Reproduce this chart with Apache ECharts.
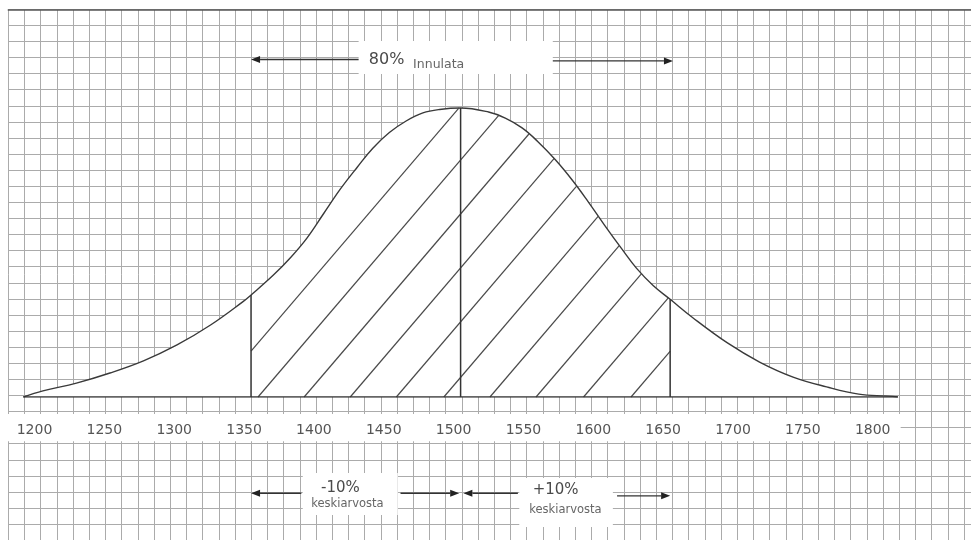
<!DOCTYPE html>
<html>
<head>
<meta charset="utf-8">
<script src="https://cdn.jsdelivr.net/npm/echarts@6/dist/echarts.min.js"></script>
<style>
  html, body { margin: 0; padding: 0; background: #fff; }
  #chart { width: 971px; height: 540px; }
</style>
</head>
<body>
<div id="chart"></div>
<script>
// x axis tick labels
const tickLabels = [1200, 1250, 1300, 1350, 1400, 1450, 1500, 1550, 1600, 1650, 1700, 1750, 1800]

// bell curve: x value, height as % of peak
const curveX = [1187, 1201, 1225, 1249, 1273, 1297, 1321, 1344, 1350, 1366, 1378, 1390, 1402, 1414, 1426, 1437, 1449, 1461, 1473, 1485, 1500,
  1520, 1532, 1544, 1555, 1568, 1580, 1591, 1603, 1615, 1626, 1638, 1650, 1666, 1691, 1714, 1738, 1762, 1785, 1806, 1813]
const curveY = [0, 2.1, 4.8, 8.3, 12.5, 18, 24.9, 32.9, 35.3, 42.2, 48.1, 55, 63.5, 72, 79.5, 86, 91.5, 95.5, 98.3, 99.5, 100,
  98.6, 96.5, 93.1, 88.5, 82, 75, 67.8, 59.5, 51.5, 44.5, 38.5, 33.8, 27.5, 18.7, 12.1, 6.9, 3.5, 1, 0.3, 0]

// -10% / mean / +10% verticals
const dividerX = [1350, 1500, 1650]
const dividerY = [35.3, 100, 33.8]

// baseline crossings of the hatch strokes
const hatchStarts = [1322, 1355, 1388, 1421, 1454, 1488, 1521, 1554, 1588, 1622]
const HATCH_SLOPE = 1.17

// annotation arrows (from -> head)
const arrowFrom = [1427, 1566, 1386, 1457, 1541, 1612]
const arrowTo = [1350, 1652, 1350, 1499, 1502, 1650]
const arrowY = [116.8, 116.3, -33.3, -33.3, -33.3, -34.2]

// annotation texts
const noteText = ['80%', 'Innulata', '-10%', 'keskiarvosta', '+10%', 'keskiarvosta']
const noteX = [1447, 1466, 1414, 1419, 1568, 1575]
const noteY = [116.6, 115, -31.6, -37.1, -32.2, -39.1]
const noteSize = [16, 12.5, 15, 11.5, 15, 11.5]
const noteAlign = ['center', 'left', 'center', 'center', 'center', 'center']

// white patches on the graph paper behind the texts: x1, x2, y1, y2
const blankX1 = [1176, 1427, 1387, 1542]
const blankX2 = [1815, 1566, 1455, 1609]
const blankY1 = [-5.9, 111.8, -26.3, -28]
const blankY2 = [-15.3, 123.2, -40.8, -45]

const FONT = 'DejaVu Sans'
const chart = echarts.init(document.getElementById('chart'))

function renderHatch(params, api) {
  const pts = curveX.map((x, i) => api.coord([x, curveY[i]]))
  const xl = api.coord([dividerX[0], 0])[0]
  const xr = api.coord([dividerX[2], 0])[0]
  const top = px => {
    for (let i = 1; i < pts.length; i++) {
      if (pts[i][0] >= px) {
        const a = pts[i - 1], b = pts[i]
        return a[1] + (px - a[0]) / (b[0] - a[0]) * (b[1] - a[1])
      }
    }
    return pts[pts.length - 1][1]
  }
  const p0 = api.coord([api.value(0), 0])
  let x = p0[0], y = p0[1]
  if (x < xl) { y -= HATCH_SLOPE * (xl - x); x = xl }
  let ex = x, ey = y
  while (ex < xr && ey > top(ex)) { ex += 0.25; ey -= HATCH_SLOPE * 0.25 }
  return {
    type: 'line',
    shape: {x1: x, y1: y, x2: ex, y2: ey},
    style: {stroke: '#4a4a4a', lineWidth: 1.2}
  }
}

function renderDivider(params, api) {
  const a = api.coord([api.value(0), 0])
  const b = api.coord([api.value(0), api.value(1)])
  return {type: 'line', shape: {x1: a[0], y1: a[1], x2: b[0], y2: b[1]}, style: {stroke: '#333', lineWidth: 1.5}}
}

function renderBlank(params, api) {
  const a = api.coord([api.value(0), api.value(2)])
  const b = api.coord([api.value(1), api.value(3)])
  return {
    type: 'rect',
    shape: {x: Math.min(a[0], b[0]), y: Math.min(a[1], b[1]), width: Math.abs(b[0] - a[0]), height: Math.abs(b[1] - a[1])},
    style: {fill: '#fff'}
  }
}

function renderArrow(params, api) {
  const a = api.coord([api.value(0), api.value(2)])
  const b = api.coord([api.value(1), api.value(2)])
  const dir = b[0] > a[0] ? 1 : -1
  const len = 9, half = 3.5
  return {
    type: 'group',
    children: [
      {type: 'line', shape: {x1: a[0], y1: a[1], x2: b[0] - dir * len, y2: b[1]}, style: {stroke: '#333', lineWidth: 1.4}},
      {type: 'polygon', shape: {points: [[b[0], b[1]], [b[0] - dir * len, b[1] - half], [b[0] - dir * len, b[1] + half]]}, style: {fill: '#222'}}
    ]
  }
}

function renderNote(params, api) {
  const i = params.dataIndex
  const p = api.coord([noteX[i], noteY[i]])
  return {
    type: 'text',
    x: p[0], y: p[1],
    style: {
      text: noteText[i], fontSize: noteSize[i], fontFamily: FONT,
      fill: noteSize[i] > 13 ? '#4a4a4a' : '#666', align: noteAlign[i], verticalAlign: 'middle'
    }
  }
}

const option = {
  animation: false,
  backgroundColor: '#fff',
  grid: [
    // plot: baseline at y=397, peak (100) at y=108
    {left: 13.56, width: 894.08, top: 9.3, bottom: 143, outerBoundsMode: 'none', containLabel: false},
    // graph paper
    {left: 8.3, top: 9.3, width: 16.2 * 60, height: 16.09 * 33, outerBoundsMode: 'none', containLabel: false}
  ],
  xAxis: [
    {
      type: 'value', min: 1180, max: 1820, z: 10,
      axisLine: {show: false},
      axisTick: {show: false},
      splitLine: {show: false},
      axisLabel: {
        customValues: tickLabels, margin: 26, padding: [0, 14, 0, 0],
        formatter: v => String(v),
        color: '#555', fontSize: 14, fontFamily: FONT
      }
    },
    {
      gridIndex: 1, type: 'value', min: 0, max: 60, interval: 1, position: 'top',
      axisLine: {show: true, lineStyle: {color: '#555', width: 1.5}},
      axisTick: {show: false}, axisLabel: {show: false},
      splitLine: {show: true, lineStyle: {color: '#ababab', width: 1}}
    }
  ],
  yAxis: [
    {type: 'value', min: 0, max: 134.15, show: false},
    {
      gridIndex: 1, type: 'value', min: 0, max: 33, interval: 1, inverse: true,
      axisLine: {show: false}, axisTick: {show: false}, axisLabel: {show: false},
      splitLine: {show: true, lineStyle: {color: '#ababab', width: 1}}
    }
  ],
  series: [
    {
      type: 'custom', z: 1, renderItem: renderBlank, clip: false,
      encode: {x: [0, 1], y: [2, 3]},
      data: blankX1.map((x, i) => [x, blankX2[i], blankY1[i], blankY2[i]])
    },
    {
      type: 'line', z: 2, smooth: 0.4, symbol: 'none',
      data: curveX.map((x, i) => [x, curveY[i]]),
      lineStyle: {color: '#3a3a3a', width: 1.4},
      areaStyle: {color: '#fff', opacity: 1}
    },
    {
      type: 'line', z: 3, symbol: 'none',
      data: [[curveX[0], 0], [curveX[curveX.length - 1], 0]],
      lineStyle: {color: '#333', width: 1.5}
    },
    {
      type: 'custom', z: 3, renderItem: renderHatch, clip: false,
      data: hatchStarts.map(x => [x, 0])
    },
    {
      type: 'custom', z: 4, renderItem: renderDivider, clip: false,
      data: dividerX.map((x, i) => [x, dividerY[i]])
    },
    {
      type: 'custom', z: 5, renderItem: renderArrow, clip: false,
      encode: {x: [0, 1], y: 2},
      data: arrowFrom.map((x, i) => [x, arrowTo[i], arrowY[i]])
    },
    {
      type: 'custom', z: 6, renderItem: renderNote, clip: false,
      data: noteX.map((x, i) => [x, noteY[i]])
    }
  ]
}

chart.setOption(option)
window.addEventListener('resize', () => chart.resize())
</script>
</body>
</html>
